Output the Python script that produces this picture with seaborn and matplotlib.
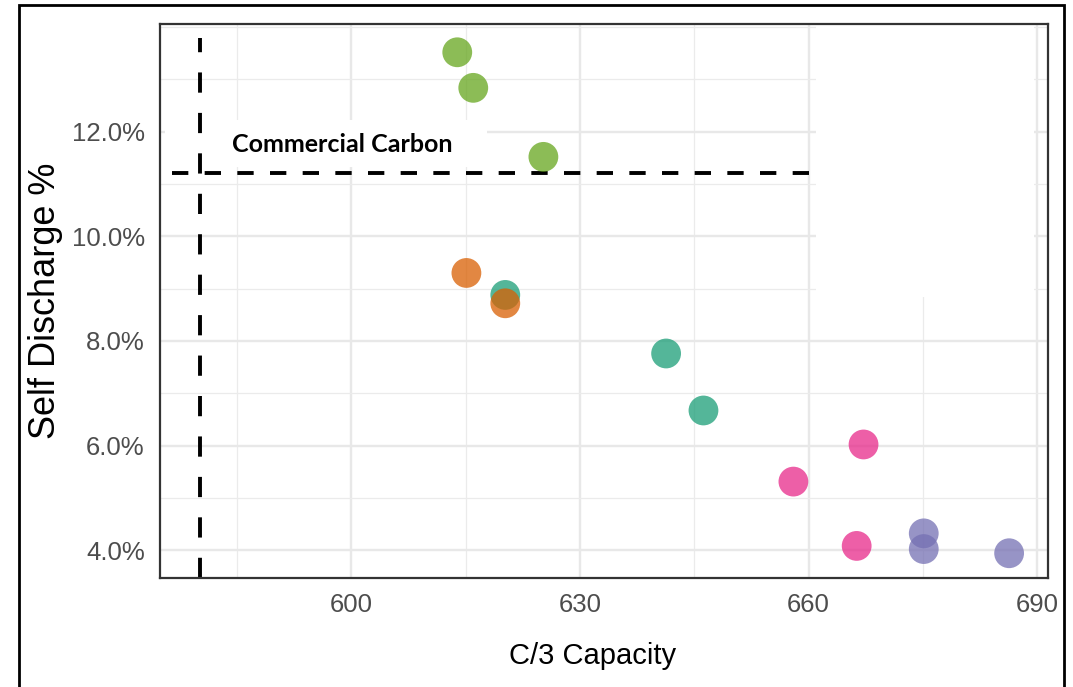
import numpy as np
import pandas as pd
import matplotlib.pyplot as plt
import matplotlib.patches as mpatches
from matplotlib.ticker import MultipleLocator, FuncFormatter
import seaborn as sns

# valores (capacidad C/3 y autodescarga en %)
grupo = ["verde", "verde", "verde",
         "teal", "teal", "teal",
         "naranja", "naranja",
         "rosa", "rosa", "rosa",
         "morado", "morado", "morado"]
capacidad = [613.9, 616.0, 625.2,
             620.2, 641.3, 646.2,
             615.1, 620.2,
             667.2, 658.0, 666.3,
             675.1, 675.1, 686.3]
descarga = [13.52, 12.84, 11.52,
            8.88, 7.76, 6.67,
            9.30, 8.72,
            6.02, 5.31, 4.08,
            4.32, 4.02, 3.94]
colores = {"verde": "#66A61E", "teal": "#1B9E77", "naranja": "#D95F02",
           "rosa": "#E7298A", "morado": "#7570B3"}

ref_capacidad = 580.2
ref_descarga = 11.22
x_ticks = [600, 630, 660, 690]
y_ticks = [4, 6, 8, 10, 12]

df = pd.DataFrame({"grupo": grupo, "capacidad": capacidad, "descarga": descarga})

sns.set_style("white")
plt.rcParams['font.family'] = ['Liberation Sans', 'DejaVu Sans']

fig = plt.figure(figsize=(10.73, 6.87), dpi=100)
ax = fig.add_axes([0.1491, 0.1587, 0.9767 - 0.1491, 0.965 - 0.1587])

# marco exterior negro
fig.patches.append(mpatches.Rectangle((19 / 1073, -0.05), (1064 - 19) / 1073, 1.05 - 5 / 687,
                                      transform=fig.transFigure, fill=False,
                                      edgecolor="black", linewidth=2, zorder=0))

ax.set_xlim(574.9, 691.4)
ax.set_ylim(3.467, 14.06)
ax.set_axisbelow(True)
ax.xaxis.set_major_locator(plt.FixedLocator(x_ticks))
ax.yaxis.set_major_locator(plt.FixedLocator(y_ticks))
ax.xaxis.set_minor_locator(MultipleLocator(15))
ax.yaxis.set_minor_locator(MultipleLocator(1))
ax.grid(which="major", color="#E8E8E8", linewidth=1.7)
ax.grid(which="minor", color="#EBEBEB", linewidth=0.9)

# parches blancos que tapan la rejilla (zona de leyenda y rotulo)
ax.add_patch(mpatches.Rectangle((660.9, 8.84), 689.5 - 660.9, 14.2 - 8.84,
                                facecolor="white", edgecolor="none", zorder=0.9))
ax.add_patch(mpatches.Rectangle((575.6, 11.33), 617.8 - 575.6, 12.23 - 11.33,
                                facecolor="white", edgecolor="none", zorder=0.9))

ax.vlines(ref_capacidad, ax.get_ylim()[0], 13.8, colors="black",
          linewidth=2.8, linestyles=(0, (5.2, 5.2)), zorder=2)
ax.hlines(ref_descarga, 660, ax.get_xlim()[0], colors="black",
          linewidth=2.8, linestyles=(0, (4.2, 4.2)), zorder=2)

sns.scatterplot(data=df, x="capacidad", y="descarga", hue="grupo", palette=colores,
                s=460, alpha=0.75, linewidth=0, legend=False, ax=ax, zorder=3)

ax.text(598.8, 11.75, "Commercial Carbon", family=["Lato", "DejaVu Sans"],
        fontweight="bold", fontsize=18, color="black", ha="center", va="center", zorder=4)

ax.yaxis.set_major_formatter(FuncFormatter(lambda v, p: f"{v:.1f}%"))
ax.tick_params(which="major", length=5, width=1.5, color="#333333",
               labelsize=18.5, labelcolor="#4D4D4D", pad=6)
ax.tick_params(which="minor", length=0)
for s in ax.spines.values():
    s.set_color("#333333")
    s.set_linewidth(1.6)

ax.set_xlabel("C/3 Capacity", fontsize=21, color="black")
ax.xaxis.set_label_coords(0.487, -0.115)
ax.set_ylabel("Self Discharge %", fontsize=26, color="black", labelpad=6)

fig.savefig("out.png", dpi=100)
